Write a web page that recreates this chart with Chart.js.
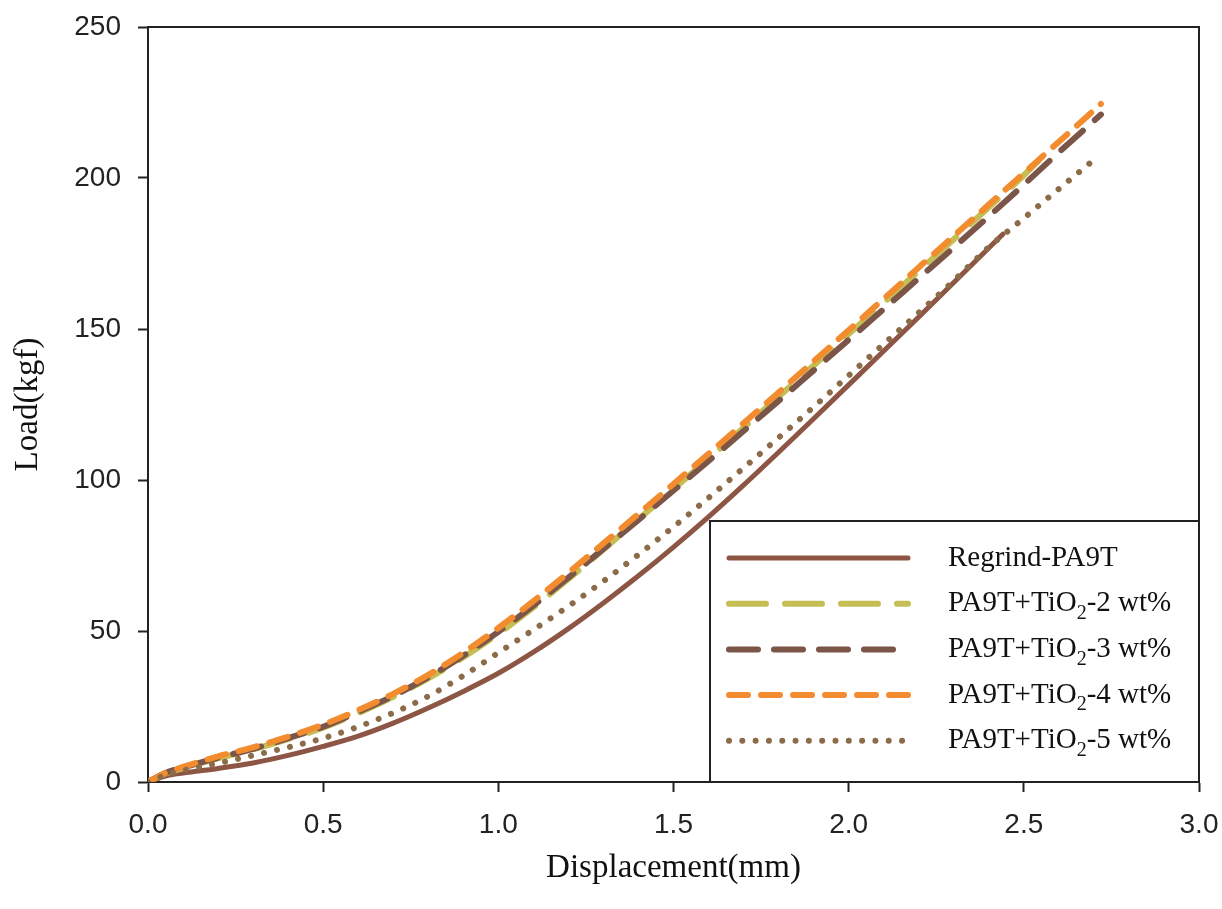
<!DOCTYPE html>
<html>
<head>
<meta charset="utf-8">
<script src="https://cdn.jsdelivr.net/npm/chart.js@4"></script>
<style>
html, body { margin: 0; padding: 0; background: #fff; }
#wrap { width: 1222px; height: 909px; }
</style>
</head>
<body>
<div id="wrap"><canvas id="loadChart" width="1222" height="909"></canvas></div>
<script>
// ---------- data ----------
const seriesLabels = ['Regrind-PA9T', 'PA9T+TiO₂-2 wt%', 'PA9T+TiO₂-3 wt%', 'PA9T+TiO₂-4 wt%', 'PA9T+TiO₂-5 wt%'];

const regrindX = [0, 0.05, 0.1, 0.2, 0.3, 0.4, 0.5, 0.6, 0.7, 0.8, 0.9, 1.0, 1.1, 1.2, 1.3, 1.4, 1.5, 1.6, 1.7, 1.8, 1.9, 2.0, 2.1, 2.2, 2.3, 2.4, 2.44];
const regrindY = [0, 2, 3, 4.5, 6.3, 8.8, 11.8, 15.2, 19.5, 24.5, 30, 36, 43, 50.8, 59.3, 68.3, 77.8, 87.8, 98.3, 109.2, 120.3, 131.5, 142.7, 154, 165.4, 176.8, 181.4];

const tio2wt2X = [0, 0.05, 0.1, 0.2, 0.3, 0.4, 0.5, 0.6, 0.7, 0.8, 0.9, 1.0, 1.1, 1.2, 1.3, 1.4, 1.5, 1.6, 1.7, 1.8, 1.9, 2.0, 2.1, 2.2, 2.3, 2.4, 2.5, 2.57];
const tio2wt2Y = [0, 2.8, 4.6, 7.8, 10.8, 14.2, 18, 22.8, 28.2, 34.3, 41.3, 49.1, 57.8, 67.2, 77, 87, 97, 107.1, 117.3, 127.6, 137.9, 148.3, 158.7, 169.2, 179.7, 190.3, 200.9, 209];

const tio2wt3X = [0, 0.05, 0.1, 0.2, 0.3, 0.4, 0.5, 0.6, 0.7, 0.8, 0.9, 1.0, 1.1, 1.2, 1.3, 1.4, 1.5, 1.6, 1.7, 1.8, 1.9, 2.0, 2.1, 2.2, 2.3, 2.4, 2.5, 2.6, 2.72];
const tio2wt3Y = [0, 3, 4.8, 8, 11, 14.5, 18.3, 23.2, 28.5, 34.7, 41.8, 49.7, 58.4, 67.7, 77.2, 86.8, 96.5, 106.3, 116.2, 126.2, 136.3, 146.4, 156.6, 166.8, 177, 187.3, 197.8, 208.5, 221];

const tio2wt4X = [0, 0.05, 0.1, 0.2, 0.3, 0.4, 0.5, 0.6, 0.7, 0.8, 0.9, 1.0, 1.1, 1.2, 1.3, 1.4, 1.5, 1.6, 1.7, 1.8, 1.9, 2.0, 2.1, 2.2, 2.3, 2.4, 2.5, 2.6, 2.72];
const tio2wt4Y = [0, 3, 5, 8.5, 11.5, 15, 19, 23.8, 29.2, 35.5, 42.8, 51, 59.9, 69.3, 79, 88.8, 98.7, 108.7, 118.8, 129, 139.3, 149.6, 160, 170.4, 180.8, 191.2, 201.6, 212, 224.5];

const tio2wt5X = [0, 0.05, 0.1, 0.2, 0.3, 0.4, 0.5, 0.6, 0.7, 0.8, 0.9, 1.0, 1.1, 1.2, 1.3, 1.4, 1.5, 1.6, 1.7, 1.8, 1.9, 2.0, 2.1, 2.2, 2.3, 2.4, 2.5, 2.6, 2.7];
const tio2wt5Y = [0, 2.3, 3.8, 6.2, 8.8, 11.5, 14.5, 18.3, 22.9, 28.4, 35.2, 42.8, 50.4, 58.2, 66.5, 75.3, 84.5, 94.1, 104, 114, 124.2, 134.6, 145, 155.4, 166, 177.1, 186.7, 196.4, 206];

const xTicks = [0, 0.5, 1.0, 1.5, 2.0, 2.5, 3.0];
const yTicks = [0, 50, 100, 150, 200, 250];

// ---------- helpers ----------
function toPoints(xs, ys) {
    return xs.map((x, i) => ({ x: x, y: ys[i] }));
}

const serifFont = "'Liberation Serif', 'Times New Roman', serif";
const sansFont = "'Liberation Sans', Arial, sans-serif";

// cadre du haut / droite + légende encadrée
const frameLegendPlugin = {
    id: 'frameLegend',
    afterDraw(chart) {
        const ctx = chart.ctx;
        const area = chart.chartArea;
        ctx.save();

        ctx.strokeStyle = '#222';
        ctx.lineWidth = 2;
        ctx.beginPath();
        ctx.moveTo(area.left, area.top);
        ctx.lineTo(area.right, area.top);
        ctx.lineTo(area.right, area.bottom);
        ctx.stroke();

        // legend box
        const boxL = area.left + 562, boxT = area.top + 494;
        const boxR = area.right, boxB = area.bottom;
        ctx.fillStyle = '#fff';
        ctx.fillRect(boxL, boxT, boxR - boxL, boxB - boxT);
        ctx.strokeRect(boxL, boxT, boxR - boxL, boxB - boxT);

        chart.data.datasets.forEach((ds, i) => {
            const y = boxT + 37 + i * 45.7;
            ctx.save();
            ctx.strokeStyle = ds.borderColor;
            ctx.lineWidth = ds.borderWidth;
            ctx.lineCap = 'round';
            ctx.setLineDash(ds.borderDash || []);
            ctx.beginPath();
            ctx.moveTo(boxL + 19, y);
            ctx.lineTo(boxL + 198, y);
            ctx.stroke();
            ctx.restore();

            // texte avec indice
            const parts = ds.label.split('₂');
            let tx = boxL + 238;
            ctx.fillStyle = '#111';
            ctx.textBaseline = 'middle';
            ctx.font = '29px ' + serifFont;
            ctx.fillText(parts[0], tx, y);
            if (parts.length > 1) {
                tx += ctx.measureText(parts[0]).width;
                ctx.font = '20px ' + serifFont;
                ctx.fillText('2', tx, y + 10);
                tx += ctx.measureText('2').width;
                ctx.font = '29px ' + serifFont;
                ctx.fillText(parts[1], tx, y);
            }
        });
        ctx.restore();
    }
};

function buildDatasets() {
    return [
        { label: seriesLabels[0], data: toPoints(regrindX, regrindY), borderColor: '#8D5544', borderWidth: 5, borderDash: [], order: 4 },
        { label: seriesLabels[1], data: toPoints(tio2wt2X, tio2wt2Y), borderColor: '#C5BE55', borderWidth: 6, borderDash: [37, 19], order: 3 },
        { label: seriesLabels[2], data: toPoints(tio2wt3X, tio2wt3Y), borderColor: '#7A5548', borderWidth: 6, borderDash: [29, 16], order: 2 },
        { label: seriesLabels[3], data: toPoints(tio2wt4X, tio2wt4Y), borderColor: '#F28C2E', borderWidth: 6, borderDash: [19, 13], order: 1 },
        { label: seriesLabels[4], data: toPoints(tio2wt5X, tio2wt5Y), borderColor: '#8B6B48', borderWidth: 6, borderDash: [0.01, 13.3], order: 0 }
    ].map(ds => Object.assign(ds, {
        pointRadius: 0,
        fill: false,
        borderCapStyle: 'round',
        cubicInterpolationMode: 'monotone'
    }));
}

// on force la taille des axes et on supprime le débord des étiquettes
function fixScaleBox(size, isX) {
    return s => {
        if (isX) s.height = size; else s.width = size;
        s.paddingLeft = 0;
        s.paddingRight = 0;
        s.paddingTop = 0;
        s.paddingBottom = 0;
    };
}

function renderLoadChart() {
    const ctx = document.getElementById('loadChart');
    new Chart(ctx, {
        type: 'line',
        data: { datasets: buildDatasets() },
        options: {
            responsive: false,
            animation: false,
            layout: { padding: { top: 27, right: 23, left: 0, bottom: 0 } },
            plugins: { legend: { display: false }, tooltip: { enabled: false } },
            scales: {
                x: {
                    type: 'linear',
                    min: xTicks[0],
                    max: xTicks[xTicks.length - 1],
                    afterFit: fixScaleBox(127, true),
                    afterBuildTicks: s => { s.ticks = xTicks.map(v => ({ value: v })); },
                    ticks: {
                        callback: v => v.toFixed(1),
                        font: { family: sansFont, size: 28 },
                        color: '#222',
                        padding: 16,
                        maxRotation: 0
                    },
                    grid: { drawOnChartArea: false, drawTicks: true, tickLength: 10, tickWidth: 2, tickColor: '#222' },
                    border: { display: true, color: '#222', width: 2 },
                    title: {
                        display: true,
                        text: 'Displacement(mm)',
                        font: { family: serifFont, size: 33 },
                        color: '#111',
                        padding: { top: 0, bottom: 21 }
                    }
                },
                y: {
                    type: 'linear',
                    min: yTicks[0],
                    max: yTicks[yTicks.length - 1],
                    afterFit: fixScaleBox(148, false),
                    afterBuildTicks: s => { s.ticks = yTicks.map(v => ({ value: v })); },
                    ticks: {
                        font: { family: sansFont, size: 28 },
                        color: '#222',
                        padding: 17
                    },
                    grid: { drawOnChartArea: false, drawTicks: true, tickLength: 10, tickWidth: 2, tickColor: '#222' },
                    border: { display: true, color: '#222', width: 2 },
                    title: {
                        display: true,
                        text: 'Load(kgf)',
                        font: { family: serifFont, size: 33 },
                        color: '#111',
                        padding: { top: 9, bottom: 0 }
                    }
                }
            }
        },
        plugins: [frameLegendPlugin]
    });
}

renderLoadChart();
</script>
</body>
</html>
